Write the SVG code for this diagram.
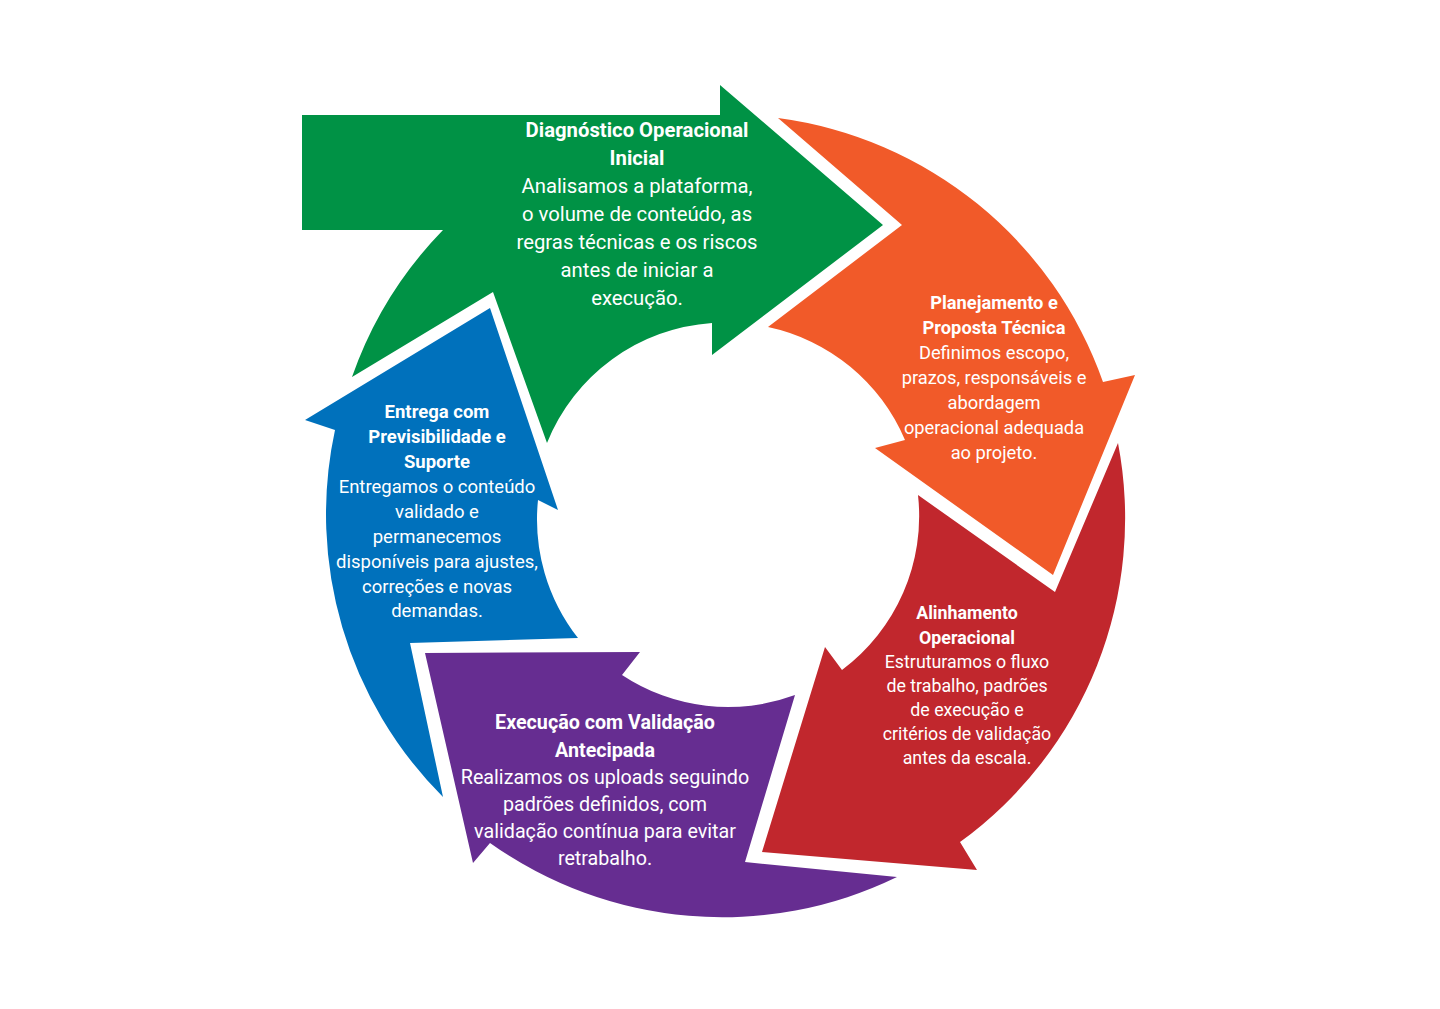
<svg xmlns="http://www.w3.org/2000/svg" width="1440" height="1009" viewBox="0 0 1440 1009">
<style>
text{font-family:Roboto,"Liberation Sans",sans-serif;fill:#fff;text-anchor:middle}
.t{font-weight:bold}
.g{font-size:20.3px}
.o{font-size:18.3px}
.r{font-size:17.8px}
.p{font-size:19.7px}
.b{font-size:18.5px}
</style>
<rect width="1440" height="1009" fill="#fff"/>
<g id="diagnostico">
<path fill="#009245" d="M302,115 L720,115 L720,85 L883,225 L712,355 L712,323 A192,192 0 0 0 547,443 L493,292 L352,377 A400,400 0 0 1 443,230 L302,230 Z"/>
<text class="g t" x="637" y="137">Diagnóstico Operacional</text>
<text class="g t" x="637" y="165">Inicial</text>
<text class="g" x="637" y="193">Analisamos a plataforma,</text>
<text class="g" x="637" y="221">o volume de conteúdo, as</text>
<text class="g" x="637" y="249">regras técnicas e os riscos</text>
<text class="g" x="637" y="277">antes de iniciar a</text>
<text class="g" x="637" y="305">execução.</text>
</g>
<g id="planejamento">
<path fill="#F15A29" d="M778,118 A400,400 0 0 1 1103,382 L1135,375 L1053,575 L875,448 L905,440 A192,192 0 0 0 768,327 L902,225 Z"/>
<text class="o t" x="994" y="309">Planejamento e</text>
<text class="o t" x="994" y="334">Proposta Técnica</text>
<text class="o" x="994" y="359">Definimos escopo,</text>
<text class="o" x="994" y="384">prazos, responsáveis e</text>
<text class="o" x="994" y="409">abordagem</text>
<text class="o" x="994" y="434">operacional adequada</text>
<text class="o" x="994" y="459">ao projeto.</text>
</g>
<g id="alinhamento">
<path fill="#C1272D" d="M1118,443 A400,400 0 0 1 960,842 L977,870 L762,852 L825,647 L842,670 A192,192 0 0 0 918,495 L1055,592 Z"/>
<text class="r t" x="967" y="619">Alinhamento</text>
<text class="r t" x="967" y="644">Operacional</text>
<text class="r" x="967" y="668">Estruturamos o fluxo</text>
<text class="r" x="967" y="692">de trabalho, padrões</text>
<text class="r" x="967" y="716">de execução e</text>
<text class="r" x="967" y="740">critérios de validação</text>
<text class="r" x="967" y="764">antes da escala.</text>
</g>
<g id="execucao">
<path fill="#662D91" d="M425,653 L640,652 L622,675 A192,192 0 0 0 795,695 L745,862 L897,877 A400,400 0 0 1 490,843 L473,863 Z"/>
<text class="p t" x="605" y="729">Execução com Validação</text>
<text class="p t" x="605" y="757">Antecipada</text>
<text class="p" x="605" y="784">Realizamos os uploads seguindo</text>
<text class="p" x="605" y="811">padrões definidos, com</text>
<text class="p" x="605" y="838">validação contínua para evitar</text>
<text class="p" x="605" y="865">retrabalho.</text>
</g>
<g id="entrega">
<path fill="#0071BC" d="M490,308 L558,510 L538,500 A192,192 0 0 0 578,638 L410,643 L443,797 A400,400 0 0 1 335,430 L305,420 Z"/>
<text class="b t" x="437" y="418">Entrega com</text>
<text class="b t" x="437" y="443">Previsibilidade e</text>
<text class="b t" x="437" y="468">Suporte</text>
<text class="b" x="437" y="493">Entregamos o conteúdo</text>
<text class="b" x="437" y="518">validado e</text>
<text class="b" x="437" y="543">permanecemos</text>
<text class="b" x="437" y="568">disponíveis para ajustes,</text>
<text class="b" x="437" y="593">correções e novas</text>
<text class="b" x="437" y="617">demandas.</text>
</g>
</svg>
